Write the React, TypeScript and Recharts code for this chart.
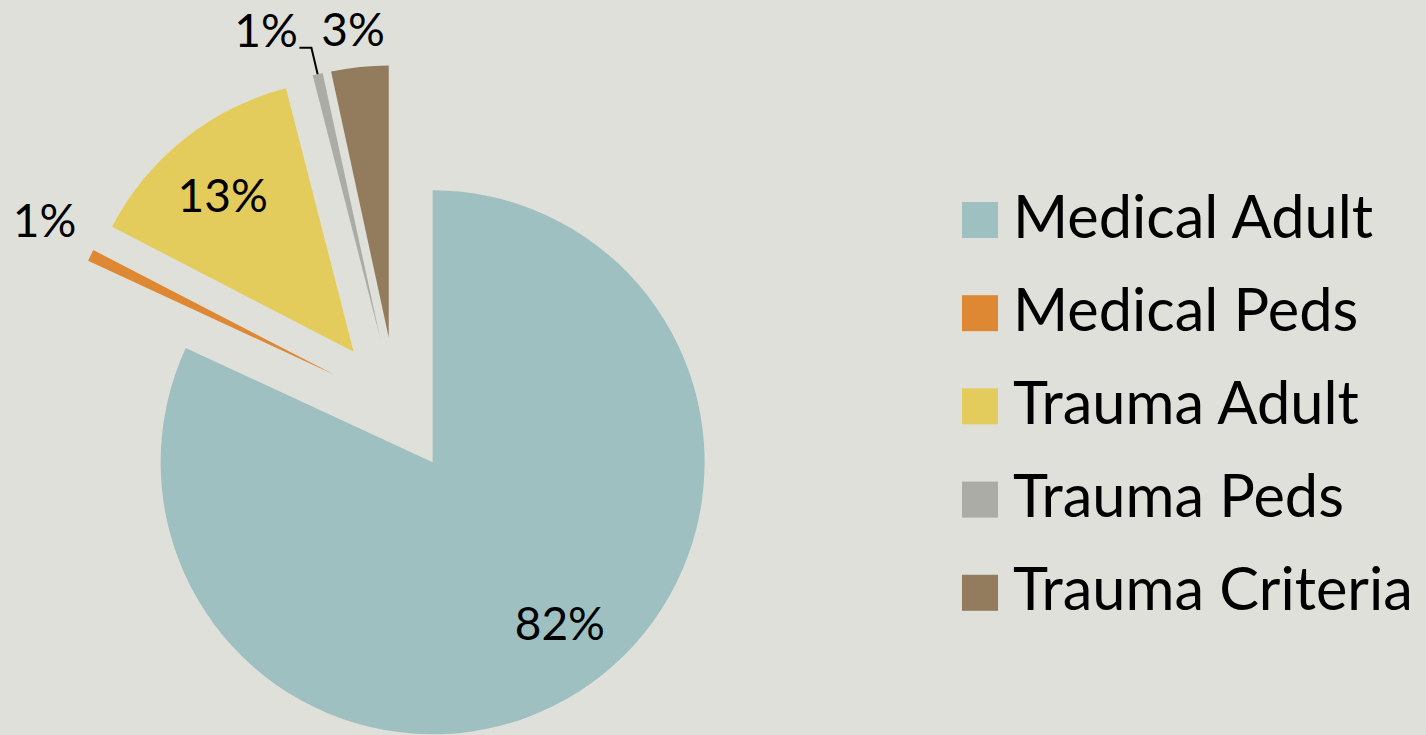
import React from 'react';
import { PieChart, Pie, Cell, Legend } from 'recharts';

const categories = ['Medical Adult', 'Medical Peds', 'Trauma Adult', 'Trauma Peds', 'Trauma Criteria'];
const values = [81.9, 0.7, 13.4, 0.6, 3.4];
const colors = ['#9FC0C0', '#DE8833', '#E4CC5C', '#ACACA7', '#937B5E'];

const BG = '#E0E0DA';
const EXPLODE = 68;
// label placement: radius factor, angular offset (deg, clockwise), leader line
const labelPlacement = [
  { f: 0.755, da: -5.7, leader: false },
  { f: 1.21, da: 2, leader: false },
  { f: 0.75, da: -1.4, leader: false },
  { f: 1.21, da: -7, leader: true },
  { f: 1.138, da: -0.5, leader: false },
];

const data = categories.map((name, i) => ({ name, value: values[i] }));
const total = values.reduce((a, b) => a + b, 0);

function explodeOffset(i: number) {
  let cum = 0;
  for (let k = 0; k < i; k++) cum += values[k];
  const mid = ((cum + values[i] / 2) / total) * 2 * Math.PI; // clockwise from top
  return { dx: Math.sin(mid) * EXPLODE, dy: -Math.cos(mid) * EXPLODE };
}

const RAD = Math.PI / 180;

const renderLabel = (props: any) => {
  const { cx, cy, midAngle, outerRadius, index, percent } = props;
  const p = labelPlacement[index];
  const ecx = cx + Math.cos(-midAngle * RAD) * EXPLODE;
  const ecy = cy + Math.sin(-midAngle * RAD) * EXPLODE;
  const a = midAngle - p.da;
  const r = p.f * outerRadius;
  const x = ecx + Math.cos(-a * RAD) * r;
  const y = ecy + Math.sin(-a * RAD) * r;
  const txt = `${Math.round(percent * 100)}%`;
  let line = null;
  if (p.leader) {
    const ox = ecx + Math.cos(-midAngle * RAD) * outerRadius;
    const oy = ecy + Math.sin(-midAngle * RAD) * outerRadius;
    const ex = ecx + Math.cos(-midAngle * RAD) * outerRadius * 1.1;
    const ey = ecy + Math.sin(-midAngle * RAD) * outerRadius * 1.1;
    line = (
      <polyline
        points={`${ox},${oy} ${ex},${ey} ${ex - 12},${ey}`}
        fill="none"
        stroke="#000"
        strokeWidth={2}
      />
    );
  }
  return (
    <g key={`lbl-${index}`}>
      {line}
      <text
        x={x}
        y={y + 16.5}
        textAnchor="middle"
        fill="#000"
        fontSize={46}
        fontFamily="Lato, 'Open Sans', sans-serif"
      >
        {txt}
      </text>
    </g>
  );
};

const LEG_PAD = 40;
const renderLegend = () => {
  return (
    <svg width={460} height={540} style={{ display: 'block', overflow: 'visible' }}>
      {categories.map((name, i) => (
        <g key={`leg-${i}`}>
          <rect x={0} y={LEG_PAD + i * 93.2} width={36} height={36} fill={colors[i]} />
          <text
            x={51}
            y={LEG_PAD + i * 93.2 + 35.5}
            fontSize={59.5}
            fill="#000"
            fontFamily="Lato, 'Open Sans', sans-serif"
          >
            {name}
          </text>
        </g>
      ))}
    </svg>
  );
};

export default function App() {
  return (
    <div
      style={{
        position: 'fixed',
        left: 0,
        top: 0,
        width: 1426,
        height: 735,
        background: BG,
        overflow: 'hidden',
      }}
    >
      <PieChart width={1426} height={735} margin={{ top: 0, right: 0, bottom: 0, left: 0 }}>
        <Pie
          data={data}
          dataKey="value"
          nameKey="name"
          cx={396}
          cy={405}
          outerRadius={272}
          startAngle={90}
          endAngle={-270}
          stroke="none"
          isAnimationActive={false}
          label={renderLabel}
          labelLine={false}
        >
          {data.map((d, i) => {
            const o = explodeOffset(i);
            return (
              <Cell
                key={d.name}
                fill={colors[i]}
                stroke="none"
                transform={`translate(${o.dx} ${o.dy})`}
              />
            );
          })}
        </Pie>
        <Legend
          content={renderLegend}
          wrapperStyle={{ left: 962, top: 202 - LEG_PAD, width: 460, height: 540 }}
        />
      </PieChart>
    </div>
  );
}
